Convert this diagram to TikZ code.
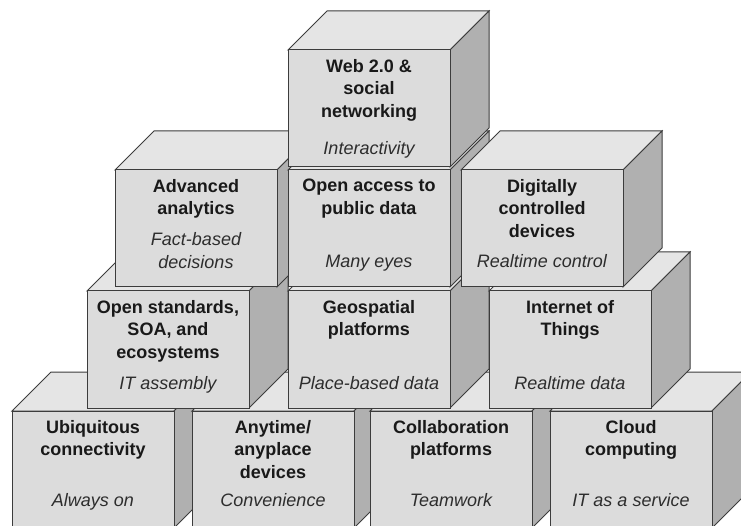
\documentclass[tikz,border=0pt]{standalone}
\usepackage{fontspec}
\setmainfont{Liberation Sans}
\usepackage{tikz}

\definecolor{cubefront}{RGB}{220,220,220}
\definecolor{cubetop}{RGB}{229,229,229}
\definecolor{cubeside}{RGB}{176,176,176}
\definecolor{cubeline}{RGB}{60,60,60}
\definecolor{notegray}{RGB}{45,45,45}

\tikzset{
    cubetitle/.style={anchor=north, inner sep=0pt, align=center, text=black!90,
        font=\fontsize{18}{22.5}\selectfont\bfseries},
    cubenote/.style={anchor=north, inner sep=0pt, align=center, text=notegray,
        font=\fontsize{18}{22.5}\selectfont\itshape}
}

% #1,#2 front top-left corner, #3 name, #4 title, #5 note, #6 note offset
\newcommand{\drawcube}[6]{
    \filldraw[fill=cubetop] (#1,#2) -- ++(39,-39) -- ++(162,0) -- ++(-39,39) -- cycle;
    \filldraw[fill=cubeside] (#1+162,#2) -- ++(39,-39) -- ++(0,117) -- ++(-39,39) -- cycle;
    \filldraw[fill=cubefront] (#1,#2) rectangle ++(162,117);
    \node (#3) at (#1+81,#2+8.5) [cubetitle] {#4};
    \node (#3sub) at (#1+81,#2+#6) [cubenote] {#5};
}

\begin{document}
\begin{tikzpicture}[x=1pt, y=-1pt, line width=1pt, draw=cubeline, line join=miter]
    \useasboundingbox (0,0) rectangle (741,526);
    \clip (0,0) rectangle (741,526);
    % bottom row
    \drawcube{12}{411}{ubiquitous}{Ubiquitous\\connectivity}{Always on}{82}
    \drawcube{192}{411}{anytime}{Anytime/\\anyplace\\devices}{Convenience}{82}
    \drawcube{370}{411}{collab}{Collaboration\\platforms}{Teamwork}{82}
    \drawcube{550}{411}{cloud}{Cloud\\computing}{IT as a service}{82}
    % second row
    \drawcube{87}{291}{standards}{Open standards,\\SOA, and\\ecosystems}{IT assembly}{85}
    \drawcube{288}{291}{geo}{Geospatial\\platforms}{Place-based data}{85}
    \drawcube{489}{291}{iot}{Internet of\\Things}{Realtime data}{85}
    % third row
    \drawcube{115}{170}{analytics}{Advanced\\analytics}{Fact-based\\decisions}{62}
    \drawcube{288}{170}{access}{Open access to\\public data}{Many eyes}{85}
    \drawcube{461}{170}{digital}{Digitally\\controlled\\devices}{Realtime control}{84}
    % top
    \drawcube{288}{50}{web}{Web 2.0 \&\\social\\networking}{Interactivity}{91}
\end{tikzpicture}
\end{document}
